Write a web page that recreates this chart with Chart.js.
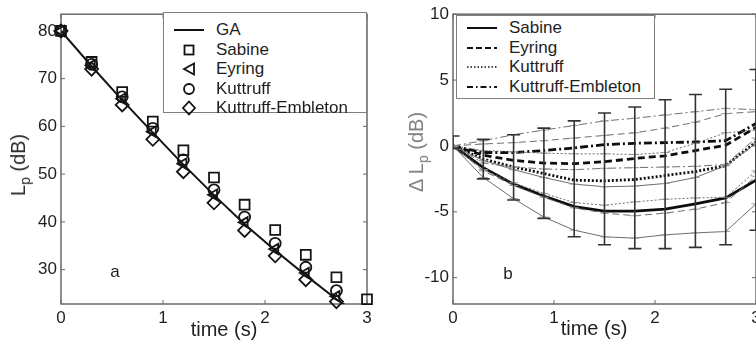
<!DOCTYPE html>
<html>
<head>
<meta charset="utf-8">
<script src="https://cdn.jsdelivr.net/npm/chart.js@4.4.0/dist/chart.umd.min.js"></script>
<style>
  body { margin: 0; width: 756px; height: 347px; overflow: hidden; background: #fff; position: relative;
         font-family: "Liberation Sans", Arial, sans-serif; color: #1e1e1e; }
  #leftChart { position: absolute; left: 0; top: 0; }
  #rightChart { position: absolute; left: 380px; top: 0; }
  .txt { position: absolute; font-size: 17px; white-space: nowrap; line-height: 1; }
  .title { font-size: 20px; }
  .rot { transform: translate(-50%, -50%) rotate(-90deg); }
  .ctr { transform: translate(-50%, -50%); }
  .legend { position: absolute; background: #fff; border: 1.5px solid #808080; box-sizing: border-box; }
  .legend .row { position: absolute; left: 0; height: 20px; display: flex; align-items: center; font-size: 17px; }
  .legend svg { flex: none; }
  sub { font-size: 14px; vertical-align: -5px; line-height: 0; }
</style>
</head>
<body>
<canvas id="leftChart" width="380" height="347"></canvas>
<canvas id="rightChart" width="420" height="347"></canvas>

<div class="txt title ctr" style="left:224px;top:329px">time (s)</div>
<div class="txt title ctr" style="left:594px;top:328px">time (s)</div>
<div class="txt title rot" style="left:18px;top:165px;color:#2a2a2a">L<sub>p</sub> (dB)</div>
<div class="txt title rot" style="left:416px;top:152px;color:#808080">&Delta; L<sub>p</sub> (dB)</div>
<div class="txt ctr" style="left:115px;top:271px">a</div>
<div class="txt ctr" style="left:508px;top:273px">b</div>

<div class="legend" style="left:163px;top:12px;width:204px;height:101px">
  <div class="row" style="top:7px"><svg width="48" height="20"><line x1="10" y1="10" x2="40" y2="10" stroke="#111" stroke-width="2"/></svg><span style="margin-left:4px">GA</span></div>
  <div class="row" style="top:26.5px"><svg width="48" height="20"><rect x="20.5" y="5.5" width="9" height="9" fill="none" stroke="#111" stroke-width="1.8"/></svg><span style="margin-left:4px">Sabine</span></div>
  <div class="row" style="top:46px"><svg width="48" height="20"><polygon points="20,10 30,4.5 30,15.5" fill="none" stroke="#111" stroke-width="1.8"/></svg><span style="margin-left:4px">Eyring</span></div>
  <div class="row" style="top:65.5px"><svg width="48" height="20"><circle cx="25" cy="10" r="5" fill="none" stroke="#111" stroke-width="1.8"/></svg><span style="margin-left:4px">Kuttruff</span></div>
  <div class="row" style="top:85px"><svg width="48" height="20"><polygon points="25,3.5 31,10 25,16.5 19,10" fill="none" stroke="#111" stroke-width="1.8"/></svg><span style="margin-left:4px">Kuttruff-Embleton</span></div>
</div>

<div class="legend" style="left:456px;top:15px;width:199px;height:84px">
  <div class="row" style="top:2px"><svg width="48" height="20"><line x1="10" y1="10" x2="40" y2="10" stroke="#111" stroke-width="2"/></svg><span style="margin-left:4px">Sabine</span></div>
  <div class="row" style="top:21.5px"><svg width="48" height="20"><line x1="10" y1="10" x2="40" y2="10" stroke="#111" stroke-width="2" stroke-dasharray="6,3"/></svg><span style="margin-left:4px">Eyring</span></div>
  <div class="row" style="top:41px"><svg width="48" height="20"><line x1="10" y1="10" x2="40" y2="10" stroke="#111" stroke-width="1.6" stroke-dasharray="1.5,2"/></svg><span style="margin-left:4px">Kuttruff</span></div>
  <div class="row" style="top:60.5px"><svg width="48" height="20"><line x1="10" y1="10" x2="40" y2="10" stroke="#111" stroke-width="2" stroke-dasharray="6,3,1.5,3"/></svg><span style="margin-left:4px">Kuttruff-Embleton</span></div>
</div>

<script>
// sample times (s)
const times = [0, 0.3, 0.6, 0.9, 1.2, 1.5, 1.8, 2.1, 2.4, 2.7, 3.0];
const timeTicks = [0, 1, 2, 3];

// panel a: decay levels (dB)
const gaLevel        = [80, 72.6, 65.5, 58.7, 52.0, 45.6, 39.5, 34.0, 28.8, 23.8, 19.5];
const sabineLevel    = [80, 73.5, 67.2, 61.0, 55.0, 49.3, 43.6, 38.3, 33.1, 28.4, 23.8];
const eyringLevel    = [80, 72.8, 65.8, 58.9, 52.2, 45.7, 39.9, 34.3, 29.3, 24.4, null];
const kuttruffLevel  = [80, 73.0, 66.2, 59.6, 53.0, 46.7, 41.0, 35.5, 30.5, 25.6, null];
const embletonLevel  = [80, 72.0, 64.5, 57.3, 50.5, 44.0, 38.2, 32.9, 27.9, 23.3, null];
const levelTicks = [30, 40, 50, 60, 70, 80];

// panel b: level differences (dB), mean and +/- spread lines
const sabineMean   = [0, -1.65, -2.9, -3.8, -4.6, -4.95, -4.95, -4.8, -4.4, -3.95, -2.6];
const sabineUp     = [0, -1.1, -1.8, -2.4, -2.9, -3.1, -3.05, -2.85, -2.4, -1.5, 0.2];
const sabineLow    = [0, -2.4, -4.0, -5.4, -6.4, -6.9, -7.0, -6.75, -6.6, -6.5, -4.4];
const eyringMean   = [0, -0.7, -1.1, -1.3, -1.35, -1.2, -0.95, -0.75, -0.35, 0.05, 1.4];
const eyringUp     = [0, 0.15, 0.25, 0.4, 0.6, 0.8, 1.0, 1.35, 1.8, 2.45, 2.6];
const eyringLow    = [0, -1.9, -3.0, -3.9, -4.7, -5.1, -5.3, -5.1, -4.8, -4.3, -2.3];
const kuttruffMean = [0, -1.0, -1.6, -2.1, -2.6, -2.65, -2.55, -2.25, -1.95, -1.5, 0.3];
const kuttruffUp   = [0, -0.35, -0.45, -0.55, -0.6, -0.6, -0.65, -0.5, 0.2, 1.0, 1.2];
const kuttruffLow  = [0, -1.8, -2.8, -3.6, -4.3, -4.5, -4.25, -4.05, -3.95, -3.9, -1.9];
const embletonMean = [0, -0.5, -0.5, -0.35, -0.15, 0.1, 0.2, 0.25, 0.3, 0.4, 1.7];
const embletonUp   = [0, 0.4, 0.85, 1.2, 1.55, 1.9, 2.1, 2.35, 2.6, 2.85, 2.75];
const embletonLow  = [0, -1.3, -1.6, -1.75, -1.8, -1.7, -1.65, -1.6, -1.55, -1.4, 0.6];
// measured spread (error bars)
const errLow  = [-0.2, -2.5, -4.1, -5.5, -6.9, -7.5, -7.8, -7.8, -7.7, -7.5, -6.4];
const errHigh = [0.75, 0.5, 0.85, 1.35, 1.9, 2.5, 2.95, 3.5, 3.9, 4.3, 5.8];
const diffTicks = [-10, -5, 0, 5, 10];

Chart.defaults.font.family = '"Liberation Sans", Arial, sans-serif';
Chart.defaults.font.size = 17;
Chart.defaults.color = '#1e1e1e';

function pts(ys) {
    return times.map((t, i) => ({ x: t, y: ys[i] }));
}

// box frame with inward ticks, like the original plots
const framePlugin = {
    id: 'frame',
    beforeDatasetsDraw(chart) {
        const { ctx, chartArea: a, scales } = chart;
        ctx.save();
        ctx.strokeStyle = '#6a6a6a';
        ctx.lineWidth = 1.5;
        ctx.strokeRect(a.left, a.top, a.right - a.left, a.bottom - a.top);
        ctx.lineWidth = 1;
        ctx.beginPath();
        scales.x.ticks.forEach(t => {
            const px = scales.x.getPixelForValue(t.value);
            ctx.moveTo(px, a.bottom); ctx.lineTo(px, a.bottom - 4);
            ctx.moveTo(px, a.top); ctx.lineTo(px, a.top + 4);
        });
        scales.y.ticks.forEach(t => {
            const py = scales.y.getPixelForValue(t.value);
            ctx.moveTo(a.left, py); ctx.lineTo(a.left + 4, py);
            ctx.moveTo(a.right, py); ctx.lineTo(a.right - 4, py);
        });
        ctx.stroke();
        ctx.restore();
    }
};

function axes(xMax, yMin, yMax, yTicks, yWidth) {
    return {
        x: {
            type: 'linear', min: 0, max: xMax,
            grid: { display: false, drawTicks: false }, border: { display: false },
            ticks: { padding: 4, maxRotation: 0 },
            afterBuildTicks: s => { s.ticks = timeTicks.map(v => ({ value: v })); },
            afterFit: s => { s.height = 43; }
        },
        y: {
            type: 'linear', min: yMin, max: yMax,
            grid: { display: false, drawTicks: false }, border: { display: false },
            ticks: { padding: 4 },
            afterBuildTicks: s => { s.ticks = yTicks.map(v => ({ value: v })); },
            afterFit: s => { s.width = yWidth; }
        }
    };
}

function markers(data, style, radius, rotation) {
    return {
        data: pts(data), showLine: false, clip: false,
        pointStyle: style, pointRadius: radius, pointRotation: rotation || 0,
        pointBorderColor: '#141414', pointBackgroundColor: 'rgba(0,0,0,0)', pointBorderWidth: 1.8
    };
}

new Chart(document.getElementById('leftChart'), {
    type: 'scatter',
    data: {
        datasets: [
            { data: pts(gaLevel), showLine: true, borderColor: '#141414', borderWidth: 2, pointRadius: 0 },
            markers(sabineLevel, 'rect', 7),
            markers(eyringLevel, 'triangle', 6, -90),
            markers(kuttruffLevel, 'circle', 5.5),
            markers(embletonLevel, 'rectRot', 6.5)
        ]
    },
    options: {
        responsive: false, animation: false,
        layout: { padding: { top: 12, right: 13, left: 0, bottom: 0 } },
        plugins: { legend: { display: false }, tooltip: { enabled: false } },
        scales: axes(3, 22.8, 83.5, levelTicks, 61)
    },
    plugins: [framePlugin]
});

const dashed = [7, 4];
const dotted = [2, 2];
const dashDot = [8, 3, 2, 3];

function meanLine(data, dash) {
    return { data: pts(data), showLine: true, borderColor: '#0e0e0e', borderWidth: 2.8, borderDash: dash, pointRadius: 0 };
}
function spreadLine(data, dash) {
    return {
        data: pts(data), showLine: true, borderColor: '#6e6e6e', borderWidth: 1, borderDash: dash,
        pointStyle: 'line', pointRadius: 4.5, pointBorderColor: '#9a9a9a', pointBorderWidth: 1
    };
}

const errData = times.flatMap((t, i) => [{ x: t, y: errLow[i] }, { x: t, y: errHigh[i] }, { x: t, y: null }]);

new Chart(document.getElementById('rightChart'), {
    type: 'scatter',
    data: {
        datasets: [
            { data: errData, showLine: true, spanGaps: false, borderColor: '#333', borderWidth: 1.6,
              pointStyle: 'line', pointRadius: 6.5, pointBorderColor: '#333', pointBorderWidth: 1.6 },
            spreadLine(embletonUp, dashDot), spreadLine(embletonLow, dashDot),
            spreadLine(eyringUp, dashed), spreadLine(eyringLow, dashed),
            spreadLine(kuttruffUp, dotted), spreadLine(kuttruffLow, dotted),
            spreadLine(sabineUp, []), spreadLine(sabineLow, []),
            meanLine(embletonMean, dashDot),
            meanLine(eyringMean, dashed),
            meanLine(kuttruffMean, dotted),
            meanLine(sabineMean, [])
        ]
    },
    options: {
        responsive: false, animation: false,
        layout: { padding: { top: 12, right: 44, left: 0, bottom: 0 } },
        plugins: { legend: { display: false }, tooltip: { enabled: false } },
        scales: axes(3, -12, 10, diffTicks, 73)
    },
    plugins: [framePlugin]
});
</script>
</body>
</html>
